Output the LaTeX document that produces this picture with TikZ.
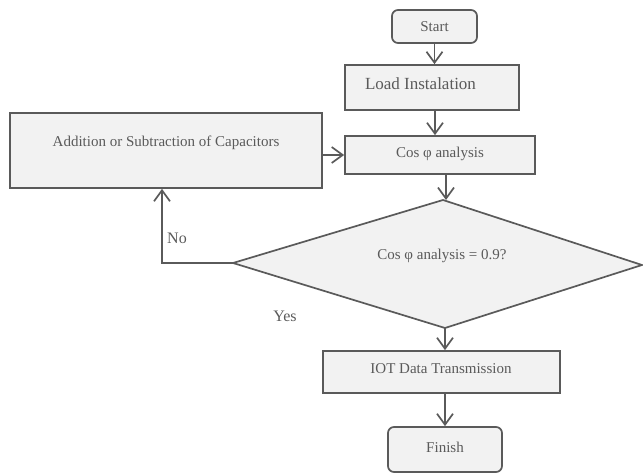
\documentclass[tikz,border=0pt]{standalone}
\usepackage{fontspec}
\setmainfont{Liberation Serif}
\newfontfamily\diagserif{Liberation Serif}
\usetikzlibrary{arrows.meta}
\definecolor{ln}{HTML}{5A5A5A}
\definecolor{tx}{HTML}{5A5A5A}
\definecolor{fl}{HTML}{F2F2F2}
\tikzset{
  boxstyle/.style={draw=ln, line width=1.7pt, fill=fl, inner sep=0pt},
  roundbox/.style={boxstyle, rounded corners=6pt},
  txt/.style={text=tx, inner sep=0pt, font=\diagserif\fontsize{15}{18}\selectfont},
  bigtxt/.style={text=tx, inner sep=0pt, font=\diagserif\fontsize{17}{20}\selectfont},
  lbl/.style={text=tx, inner sep=0pt, font=\diagserif\fontsize{16}{19}\selectfont},
  conn/.style={draw=ln, line width=1.7pt, -{Straight Barb[length=11pt,width=16pt,line width=1.7pt]}},
  decision/.style={draw=ln, line width=1.7pt, fill=fl, line join=miter}
}
\begin{document}
\begin{tikzpicture}[x=1pt,y=-1pt]
\useasboundingbox (0,0) rectangle (643,473);
% boxes
\node[roundbox, minimum width=85pt, minimum height=33pt] (start) at (434.5,26.5) {};
\node[txt] (starttxt) at (434.5,27) {Start};
\node[boxstyle, minimum width=174pt, minimum height=45pt] (load) at (432,87.5) {};
\node[bigtxt] (loadtxt) at (420.5,84) {Load Instalation};
\node[boxstyle, minimum width=190pt, minimum height=38pt] (cos) at (440,155) {};
\node[txt] (costxt) at (440,153.5) {Cos φ analysis};
\node[boxstyle, minimum width=312pt, minimum height=75pt] (add) at (166,150.5) {};
\node[txt] (addtxt) at (166,143) {Addition or Subtraction of Capacitors};
% decision diamond
\coordinate (dl) at (233,263);
\coordinate (dt) at (443,200);
\coordinate (dr) at (642,265);
\coordinate (db) at (445,328);
\draw[decision] (dl) -- (dt) -- (dr) -- (db) -- cycle;
\node[txt] (diatxt) at (442,256) {Cos φ analysis = 0.9?};
\node[boxstyle, minimum width=237pt, minimum height=42pt] (iot) at (441.5,372) {};
\node[txt] (iottxt) at (441,368.5) {IOT Data Transmission};
\node[roundbox, minimum width=114pt, minimum height=45pt] (fin) at (445,449.5) {};
\node[txt] (fintxt) at (445,447) {Finish};
% labels
\node[lbl] (no) at (177,238) {No};
\node[lbl] (yes) at (285,316) {Yes};
% connectors
\draw[conn] (start.south) -- (start.south |- load.north);
\draw[conn] ([xshift=3pt]load.south) -- ([xshift=3pt]load.south |- cos.north);
\draw[conn] (add.east |- cos.west) -- (cos.west);
\draw[conn] ([xshift=6pt]cos.south) -- ([xshift=6pt]cos.south |- dt);
\draw[conn] (db) -- (db |- iot.north);
\draw[conn] (fin.north |- iot.south) -- (fin.north);
\draw[conn] (dl) -- ([xshift=-4pt]dl -| add.south) -- ([xshift=-4pt]add.south);
\end{tikzpicture}
\end{document}
